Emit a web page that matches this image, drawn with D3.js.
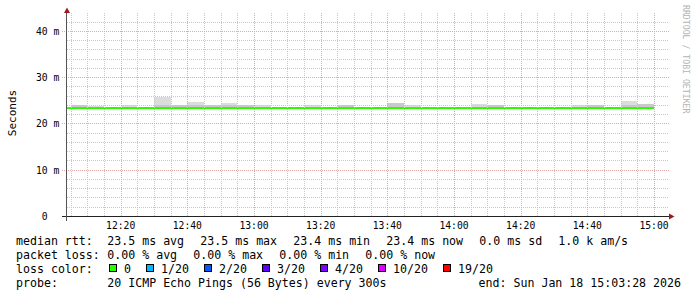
<!DOCTYPE html>
<html>
<head>
<meta charset="utf-8">
<script src="https://cdn.jsdelivr.net/npm/d3@7"></script>
<style>
  body { margin: 0; background: #fff; }
  svg { display: block; }
  text { font-family: "DejaVu Sans Mono", monospace; fill: #000; }
</style>
</head>
<body>
<div id="chart"></div>
<script>
// 5 minute steps, Sun Jan 18 2026
const slotTimes = ["12:00","12:05","12:10","12:15","12:20","12:25","12:30","12:35","12:40","12:45","12:50","12:55",
                   "13:00","13:05","13:10","13:15","13:20","13:25","13:30","13:35","13:40","13:45","13:50","13:55",
                   "14:00","14:05","14:10","14:15","14:20","14:25","14:30","14:35","14:40","14:45","14:50","14:55"];
// median rtt (ms)
const medianRtt = [23.4,23.4,23.4,23.4,23.4,23.4,23.4,23.4,23.4,23.4,23.4,23.4,
                   23.4,23.4,23.4,23.4,23.4,23.4,23.4,23.4,23.4,23.4,23.4,23.4,
                   23.4,23.4,23.4,23.4,23.4,23.4,23.4,23.4,23.4,23.4,23.4,23.4];
// smoke: sparse upper pings (light) and dense band (darker), ms
const smokeHigh = [null,null,23.8,null,24.0,null,25.8,null,24.7,null,24.5,null,
                   24.0,null,null,23.9,null,null,null,null,null,23.9,null,null,
                   null,24.2,null,null,null,null,null,23.9,null,null,24.9,null];
const smokeMid  = [null,24.0,null,null,null,null,24.0,24.0,24.0,24.0,24.0,24.0,
                   null,null,null,null,null,24.0,null,null,24.5,null,null,null,
                   null,null,24.0,null,null,null,null,null,24.0,null,24.0,24.2];

const lossLevels = ["0","1/20","2/20","3/20","4/20","10/20","19/20"];
const lossColors = ["#26ff00","#00b8ff","#0059ff","#5e00ff","#7e00ff","#dd00ff","#ff0000"];
const rttLegend  = ["23.5 ms avg","23.5 ms max","23.4 ms min","23.4 ms now","0.0 ms sd","1.0 k am/s"];
const lossLegend = ["0.00 % avg","0.00 % max","0.00 % min","0.00 % now"];
const yTicks = [0, 10, 20, 30, 40];

const width = 697, height = 297;
const parse = d3.timeParse("%Y-%m-%d %H:%M:%S");
const start = parse("2026-01-18 12:03:54");
const end = d3.timeHour.offset(start, 3);
const slots = slotTimes.map((t, i) => ({
  t0: parse("2026-01-18 " + t + ":00"),
  t1: d3.timeMinute.offset(parse("2026-01-18 " + t + ":00"), 5),
  med: medianRtt[i], hi: smokeHigh[i], mid: smokeMid[i]
}));

const x = d3.scaleTime().domain([start, end]).range([67, 667]);
const y = d3.scaleLinear().domain([0, 43.85]).range([216, 13]);
const cx = v => Math.round(v) + 0.5;

const svg = d3.select("#chart").append("svg")
    .attr("width", width).attr("height", height);

const plot = svg.append("g");
svg.append("clipPath").attr("id", "clip")
  .append("rect").attr("x", 67).attr("y", 13).attr("width", 600).attr("height", 203);

// smoke
const smoke = plot.append("g").attr("clip-path", "url(#clip)").attr("shape-rendering", "crispEdges");
smoke.selectAll("rect.hi")
  .data(slots.filter(d => d.hi != null))
  .join("rect")
    .attr("x", d => x(d.t0)).attr("width", d => x(d.t1) - x(d.t0))
    .attr("y", d => y(d.hi)).attr("height", d => y(d.med) - y(d.hi))
    .attr("fill", "#dcdcdc");
smoke.selectAll("rect.mid")
  .data(slots.filter(d => d.mid != null))
  .join("rect")
    .attr("x", d => x(d.t0)).attr("width", d => x(d.t1) - x(d.t0))
    .attr("y", d => y(d.mid)).attr("height", d => y(d.med) - y(d.mid))
    .attr("fill", "#c9c9c9");

// grid
const grid = svg.append("g").attr("shape-rendering", "crispEdges").attr("fill", "none");
const minorX = x.ticks(d3.timeMinute.every(5)).filter(t => t.getMinutes() % 20 !== 0);
const majorX = x.ticks(d3.timeMinute.every(20));
const minorY = d3.range(2, 44, 2).filter(v => v % 10 !== 0);

grid.selectAll("line.mx").data(minorX).join("line")
    .attr("x1", d => cx(x(d))).attr("x2", d => cx(x(d)))
    .attr("y1", 13).attr("y2", 216)
    .attr("stroke", "#c8c8c8").attr("stroke-dasharray", "1,1");
grid.selectAll("line.my").data(minorY).join("line")
    .attr("x1", 67).attr("x2", 669)
    .attr("y1", d => cx(y(d))).attr("y2", d => cx(y(d)))
    .attr("stroke", "#c8c8c8").attr("stroke-dasharray", "1,1");
grid.selectAll("line.Mx").data(majorX).join("line")
    .attr("x1", d => cx(x(d))).attr("x2", d => cx(x(d)))
    .attr("y1", 13).attr("y2", 216)
    .attr("stroke", "#e0a8a8").attr("stroke-dasharray", "1,1");
grid.selectAll("line.My").data(yTicks.filter(v => v > 0)).join("line")
    .attr("x1", 62).attr("x2", 669)
    .attr("y1", d => cx(y(d))).attr("y2", d => cx(y(d)))
    .attr("stroke", "#e0a8a8").attr("stroke-dasharray", "1,1");

// median line
const medPts = slots.map(d => [d.t0, d.med]).concat([[slots[slots.length - 1].t1, medianRtt[medianRtt.length - 1]]]);
plot.append("path")
    .datum(medPts)
    .attr("clip-path", "url(#clip)")
    .attr("fill", "none")
    .attr("stroke", lossColors[0])
    .attr("stroke-width", 2)
    .attr("shape-rendering", "crispEdges")
    .attr("d", d3.line().x(d => x(d[0])).y(d => y(d[1])).curve(d3.curveStepAfter));

// axes
const ax = svg.append("g").attr("shape-rendering", "crispEdges");
ax.append("line").attr("x1", 62).attr("x2", 670).attr("y1", 216.5).attr("y2", 216.5).attr("stroke", "#222");
ax.append("line").attr("x1", 66.5).attr("x2", 66.5).attr("y1", 12).attr("y2", 221).attr("stroke", "#555");
svg.append("path").attr("d", "M67,7.5L70,13L64,13Z").attr("fill", "#9b1b1b");
svg.append("path").attr("d", "M674.5,216.5L669,213.5L669,219.5Z").attr("fill", "#9b1b1b");

// tick labels
svg.append("g").selectAll("text").data(majorX).join("text")
    .attr("x", d => x(d)).attr("y", 228.5)
    .attr("text-anchor", "middle").attr("font-size", "9.7px")
    .text(d3.timeFormat("%H:%M"));
svg.append("g").selectAll("text").data(yTicks).join("text")
    .attr("x", 36).attr("y", d => y(d) + 3.8)
    .attr("font-size", "9.7px").attr("xml:space", "preserve")
    .text(d => d === 0 ? " 0" : d + " m");

svg.append("text")
    .attr("transform", "translate(15.5,113) rotate(-90)")
    .attr("text-anchor", "middle").attr("font-size", "11px")
    .text("Seconds");

svg.append("text")
    .attr("transform", "translate(683,5) rotate(90)")
    .attr("font-size", "8.2px").style("fill", "#b4b4b4")
    .text("RRDTOOL / TOBI OETIKER");

// legend
const cw = 7, fs = "11.6px";
const leg = svg.append("g").attr("font-size", fs);
function row(yb, head, items) {
  leg.append("text").attr("x", 16).attr("y", yb).text(head);
  let px = 107.3;
  items.forEach(s => {
    leg.append("text").attr("x", px).attr("y", yb).text(s);
    px += s.length * cw + 16;
  });
}
row(245, "median rtt:", rttLegend);
row(259, "packet loss:", lossLegend);

leg.append("text").attr("x", 16).attr("y", 272.8).text("loss color:");
let bx = 108.5;
lossLevels.forEach((l, i) => {
  leg.append("rect").attr("x", bx + 0.5).attr("y", 264.5).attr("width", 7).attr("height", 7)
      .attr("fill", lossColors[i]).attr("stroke", "#000").attr("shape-rendering", "crispEdges");
  leg.append("text").attr("x", bx + 15.5).attr("y", 272.8).text(l);
  bx += 15.5 + l.length * cw + 14.5;
});

leg.append("text").attr("x", 16).attr("y", 286.7).text("probe:");
leg.append("text").attr("x", 107.3).attr("y", 286.7).text("20 ICMP Echo Pings (56 Bytes) every 300s");
leg.append("text").attr("x", 681).attr("y", 286.7).attr("text-anchor", "end").text("end: Sun Jan 18 15:03:28 2026");
</script>
</body>
</html>
